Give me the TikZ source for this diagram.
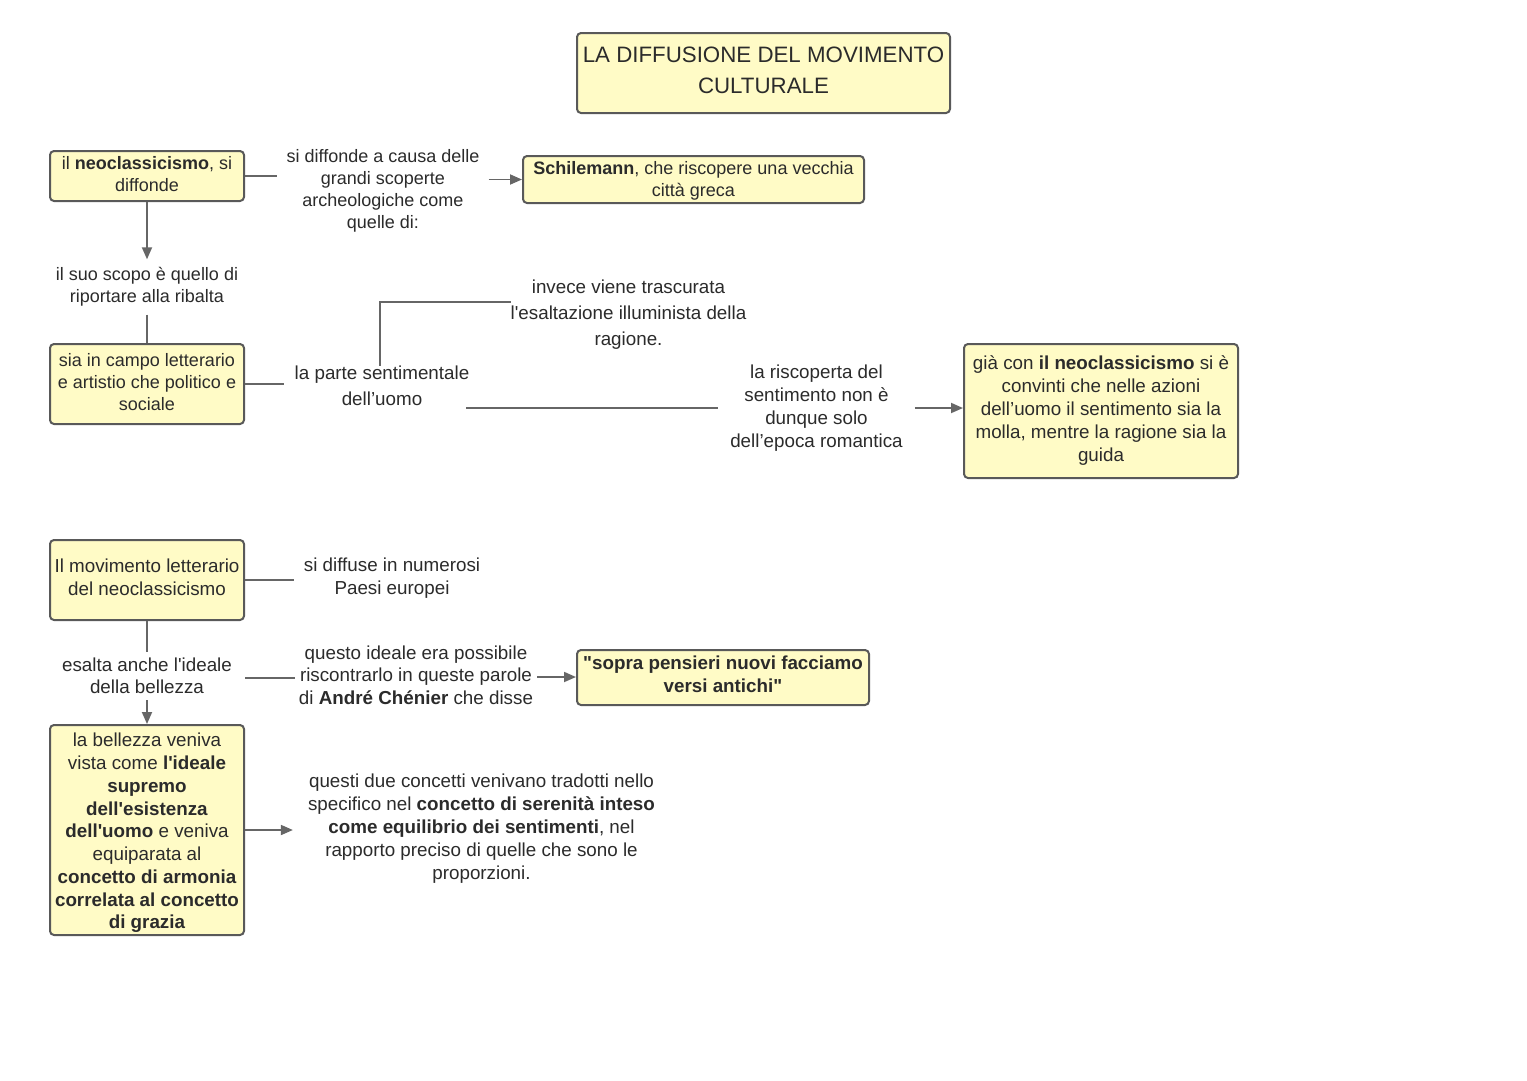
\documentclass[tikz,border=0pt]{standalone}
\usepackage{fontspec}
\setmainfont{Liberation Sans}
\usetikzlibrary{arrows.meta,calc}
\definecolor{boxfill}{HTML}{FFFBC6}
\definecolor{boxline}{HTML}{595959}
\definecolor{conncol}{HTML}{666666}
\definecolor{txt}{HTML}{2B2B2B}
\newcommand{\sq}{\textquotesingle}
\begin{document}
\begin{tikzpicture}[x=1pt,y=-1pt,
  box/.style={draw=boxline,line width=2pt,fill=boxfill,rounded corners=4pt,inner sep=0pt},
  btxt/.style={align=center,inner sep=0pt,text=txt,font=\fontsize{18}{22}\selectfont},
  lbl/.style={align=center,text=txt,inner sep=8pt,font=\fontsize{18}{22}\selectfont},
  big/.style={font=\fontsize{18.8}{#1}\selectfont},
  conn/.style={draw=conncol,line width=1.8pt},
  arr/.style={conn,-{Triangle[length=12pt,width=10pt]}}]
\fill[white] (0,0) rectangle (1527,1080);
\useasboundingbox (0,0) rectangle (1527,1080);

% boxes
\node[box,minimum width=373pt,minimum height=80pt] (title) at (763.5,73) {};
\node[btxt,font=\fontsize{22.3}{31}\selectfont] at ([yshift=3pt]title.center) {LA DIFFUSIONE DEL MOVIMENTO\\CULTURALE};
\node[box,minimum width=194pt,minimum height=50pt] (B1) at (147,176) {};
\node[btxt] at ([yshift=2pt]B1.center) {il \textbf{neoclassicismo}, si\\diffonde};
\node[box,minimum width=341pt,minimum height=47pt] (B2) at (693.5,179.5) {};
\node[btxt] at ([yshift=-1pt]B2.center) {\textbf{Schilemann}, che riscopere una vecchia\\città greca};
\node[box,minimum width=194pt,minimum height=80pt] (B3) at (147,384) {};
\node[btxt] at ([yshift=2pt]B3.center) {sia in campo letterario\\e artistio che politico e\\sociale};
\node[box,minimum width=274pt,minimum height=134pt] (B4) at (1101,411) {};
\node[btxt,big=23] at (B4.center) {già con \textbf{il neoclassicismo} si è\\convinti che nelle azioni\\dell'uomo il sentimento sia la\\molla, mentre la ragione sia la\\guida};
\node[box,minimum width=194pt,minimum height=80pt] (B5) at (147,580) {};
\node[btxt,big=23] at ([yshift=3pt]B5.center) {Il movimento letterario\\del neoclassicismo};
\node[box,minimum width=292pt,minimum height=55pt] (B6) at (723,677.5) {};
\node[btxt,big=23] at ([yshift=3pt]B6.center) {\textbf{\textquotedbl sopra pensieri nuovi facciamo}\\\textbf{versi antichi\textquotedbl}};
\node[box,minimum width=194pt,minimum height=210pt] (B7) at (147,830) {};
\node[btxt,big=22.75] at ([yshift=-3pt]B7.center) {la bellezza veniva\\vista come \textbf{l\sq ideale}\\\textbf{supremo}\\\textbf{dell\sq esistenza}\\\textbf{dell\sq uomo} e veniva\\equiparata al\\\textbf{concetto di armonia}\\\textbf{correlata al concetto}\\\textbf{di grazia}};

% free texts
\node[lbl,inner sep=9pt] (T1) at (383,191) {si diffonde a causa delle\\grandi scoperte\\archeologiche come\\quelle di:};
\node[lbl,inner sep=8pt] (T2) at (147,287) {il suo scopo è quello di\\riportare alla ribalta};
\node[lbl,inner sep=0pt,big=26] (T3) at (382,386) {la parte sentimentale\\dell'uomo};
\node[lbl,inner sep=0pt,big=26] (T4) at (628.5,315) {invece viene trascurata\\l\sq esaltazione illuminista della\\ragione.};
\node[lbl,inner sep=12pt,big=23] (T5) at (816.5,408) {la riscoperta del\\sentimento non è\\dunque solo\\dell'epoca romantica};
\node[lbl,inner sep=10pt,big=23] (T6) at (392,578) {si diffuse in numerosi\\Paesi europei};
\node[lbl,inner xsep=13pt,inner ysep=6pt,big=22.5] (T7) at (147,676) {esalta anche l\sq ideale\\della bellezza};
\node[lbl,inner sep=4pt,big=22.5] (T8) at (416,675) {questo ideale era possibile\\riscontrarlo in queste parole\\di \textbf{André Chénier} che disse};
\node[lbl,inner sep=15pt,big=23] (T9) at (481.5,829) {questi due concetti venivano tradotti nello\\specifico nel \textbf{concetto di serenità inteso}\\\textbf{come equilibrio dei sentimenti}, nel\\rapporto preciso di quelle che sono le\\proporzioni.};

% connectors
\draw[conn] (B1.east) -- (B1.east -| T1.west);
\draw[arr] (T1.east |- B2.west) -- (B2.west);
\draw[arr] (B1.south) -- (T2.north);
\draw[conn] (T2.south) -- (B3.north);
\draw[conn,shorten >=11pt] (B3.east) -- (B3.east -| T3.west);
\draw[conn] ([xshift=-2pt]T3.north) |- ([yshift=13pt]T4.west);
\draw[conn] ([xshift=-3pt]T3.east |- T5.west) -- (T5.west);
\draw[arr] (T5.east) -- (T5.east -| B4.west);
\draw[conn] (B5.east) -- (B5.east -| T6.west);
\draw[conn] (B5.south) -- (T7.north);
\draw[conn] ([yshift=-2pt]T7.east) -- ([yshift=-2pt]T7.east -| T8.west);
\draw[arr] ([yshift=-2pt]T8.east) -- ([yshift=-2pt]T8.east -| B6.west);
\draw[arr] (T7.south) -- (B7.north);
\draw[arr] (B7.east) -- (B7.east -| T9.west);
\end{tikzpicture}
\end{document}
